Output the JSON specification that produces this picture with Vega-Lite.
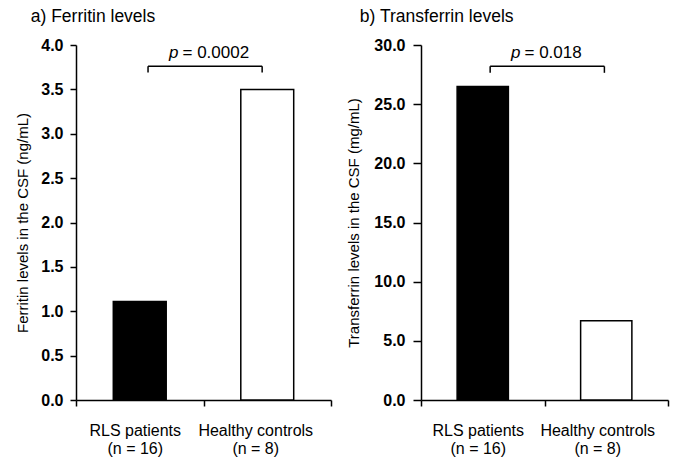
{
  "$schema": "https://vega.github.io/schema/vega-lite/v6.json",
  "padding": {"left": 15, "top": 7, "right": 5, "bottom": 5},
  "background": "white",
  "config": {
    "font": "Liberation Sans",
    "view": {"stroke": null},
    "axis": {"domainColor": "black", "domainWidth": 1.5, "tickColor": "black", "tickWidth": 1.5, "labelColor": "black", "titleColor": "black", "grid": false}
  },
  "datasets": {
    "bars_a": [
      {"group": "RLS patients", "value": 1.11},
      {"group": "Healthy controls", "value": 3.5}
    ],
    "bars_b": [
      {"group": "RLS patients", "value": 26.5},
      {"group": "Healthy controls", "value": 6.7}
    ],
    "sig_a": [{"g1": "RLS patients", "g2": "Healthy controls", "top": 3.76, "bottom": 3.69, "ty": 3.85, "p": "p", "pv": "= 0.0002"}],
    "sig_b": [{"g1": "RLS patients", "g2": "Healthy controls", "top": 28.2, "bottom": 27.65, "ty": 28.9, "p": "p", "pv": "= 0.018"}]
  },
  "spacing": 14,
  "hconcat": [
    {
      "width": 255,
      "height": 355,
      "title": {"text": "a) Ferritin levels", "anchor": "start", "frame": "bounds", "fontSize": 17.5, "fontWeight": "normal", "color": "black", "dx": 15, "offset": 12},
      "layer": [
        {
          "data": {"name": "bars_a"},
          "mark": {"type": "bar", "width": {"band": 0.415}, "stroke": "black", "strokeWidth": 1.5},
          "encoding": {
            "x": {"field": "group", "type": "nominal",
              "scale": {"domain": ["RLS patients", "Healthy controls"], "paddingInner": 0, "paddingOuter": 0},
              "axis": {"title": null, "tickBand": "extent", "labelAngle": 0, "labelFontSize": 16, "labelPadding": 16, "labelLineHeight": 18, "tickSize": 6,
                "labelOffset": {"condition": {"test": "datum.value == 'Healthy controls'", "value": -12}, "value": -5},
                "labelExpr": "datum.value == 'RLS patients' ? [datum.value, '(n = 16)'] : datum.value == 'Healthy controls' ? [datum.value, '(n = 8)'] : ''"}},
            "y": {"field": "value", "type": "quantitative", "scale": {"domain": [0, 4]},
              "axis": {"title": "Ferritin levels in the CSF (ng/mL)", "values": [0, 0.5, 1, 1.5, 2, 2.5, 3, 3.5, 4], "format": ".1f", "labelFontSize": 16, "labelFontWeight": "bold", "labelPadding": 7, "tickSize": 6, "titleFontSize": 15, "titleFontWeight": "normal", "titlePadding": 10}},
            "fill": {"field": "group", "type": "nominal", "scale": {"domain": ["RLS patients", "Healthy controls"], "range": ["black", "white"]}, "legend": null}
          }
        },
        {
          "data": {"name": "sig_a"},
          "mark": {"type": "rule", "color": "black", "strokeWidth": 1.5},
          "encoding": {
            "x": {"field": "g1", "type": "nominal", "bandPosition": 0.565},
            "x2": {"field": "g2", "bandPosition": 0.46},
            "y": {"field": "top", "type": "quantitative"}
          }
        },
        {
          "data": {"name": "sig_a"},
          "mark": {"type": "rule", "color": "black", "strokeWidth": 1.5},
          "encoding": {
            "x": {"field": "g1", "type": "nominal", "bandPosition": 0.565},
            "y": {"field": "top", "type": "quantitative"},
            "y2": {"field": "bottom"}
          }
        },
        {
          "data": {"name": "sig_a"},
          "mark": {"type": "rule", "color": "black", "strokeWidth": 1.5},
          "encoding": {
            "x": {"field": "g2", "type": "nominal", "bandPosition": 0.46},
            "y": {"field": "top", "type": "quantitative"},
            "y2": {"field": "bottom"}
          }
        },
        {
          "data": {"name": "sig_a"},
          "mark": {"type": "text", "fontSize": 17, "fontStyle": "italic", "align": "right", "baseline": "alphabetic", "dx": -25, "color": "black"},
          "encoding": {
            "x": {"field": "g2", "type": "nominal", "bandPosition": 0},
            "y": {"field": "ty", "type": "quantitative"},
            "text": {"field": "p"}
          }
        },
        {
          "data": {"name": "sig_a"},
          "mark": {"type": "text", "fontSize": 17, "align": "left", "baseline": "alphabetic", "dx": -21, "color": "black"},
          "encoding": {
            "x": {"field": "g2", "type": "nominal", "bandPosition": 0},
            "y": {"field": "ty", "type": "quantitative"},
            "text": {"field": "pv"}
          }
        }
      ]
    },
    {
      "width": 247,
      "height": 355,
      "title": {"text": "b) Transferrin levels", "anchor": "start", "frame": "bounds", "fontSize": 17.5, "fontWeight": "normal", "color": "black", "dx": 13, "offset": 12},
      "layer": [
        {
          "data": {"name": "bars_b"},
          "mark": {"type": "bar", "width": {"band": 0.415}, "stroke": "black", "strokeWidth": 1.5},
          "encoding": {
            "x": {"field": "group", "type": "nominal",
              "scale": {"domain": ["RLS patients", "Healthy controls"], "paddingInner": 0, "paddingOuter": 0},
              "axis": {"title": null, "tickBand": "extent", "labelAngle": 0, "labelFontSize": 16, "labelPadding": 16, "labelLineHeight": 18, "tickSize": 6,
                "labelOffset": {"condition": {"test": "datum.value == 'Healthy controls'", "value": -9}, "value": -5},
                "labelExpr": "datum.value == 'RLS patients' ? [datum.value, '(n = 16)'] : datum.value == 'Healthy controls' ? [datum.value, '(n = 8)'] : ''"}},
            "y": {"field": "value", "type": "quantitative", "scale": {"domain": [0, 30]},
              "axis": {"title": "Transferrin levels in the CSF (mg/mL)", "values": [0, 5, 10, 15, 20, 25, 30], "format": ".1f", "labelFontSize": 16, "labelFontWeight": "bold", "labelPadding": 8, "tickSize": 8, "titleFontSize": 15, "titleFontWeight": "normal", "titlePadding": 12}},
            "fill": {"field": "group", "type": "nominal", "scale": {"domain": ["RLS patients", "Healthy controls"], "range": ["black", "white"]}, "legend": null}
          }
        },
        {
          "data": {"name": "sig_b"},
          "mark": {"type": "rule", "color": "black", "strokeWidth": 1.5},
          "encoding": {
            "x": {"field": "g1", "type": "nominal", "bandPosition": 0.56},
            "x2": {"field": "g2", "bandPosition": 0.485},
            "y": {"field": "top", "type": "quantitative"}
          }
        },
        {
          "data": {"name": "sig_b"},
          "mark": {"type": "rule", "color": "black", "strokeWidth": 1.5},
          "encoding": {
            "x": {"field": "g1", "type": "nominal", "bandPosition": 0.56},
            "y": {"field": "top", "type": "quantitative"},
            "y2": {"field": "bottom"}
          }
        },
        {
          "data": {"name": "sig_b"},
          "mark": {"type": "rule", "color": "black", "strokeWidth": 1.5},
          "encoding": {
            "x": {"field": "g2", "type": "nominal", "bandPosition": 0.485},
            "y": {"field": "top", "type": "quantitative"},
            "y2": {"field": "bottom"}
          }
        },
        {
          "data": {"name": "sig_b"},
          "mark": {"type": "text", "fontSize": 17, "fontStyle": "italic", "align": "right", "baseline": "alphabetic", "dx": -24, "color": "black"},
          "encoding": {
            "x": {"field": "g2", "type": "nominal", "bandPosition": 0},
            "y": {"field": "ty", "type": "quantitative"},
            "text": {"field": "p"}
          }
        },
        {
          "data": {"name": "sig_b"},
          "mark": {"type": "text", "fontSize": 17, "align": "left", "baseline": "alphabetic", "dx": -20, "color": "black"},
          "encoding": {
            "x": {"field": "g2", "type": "nominal", "bandPosition": 0},
            "y": {"field": "ty", "type": "quantitative"},
            "text": {"field": "pv"}
          }
        }
      ]
    }
  ]
}
